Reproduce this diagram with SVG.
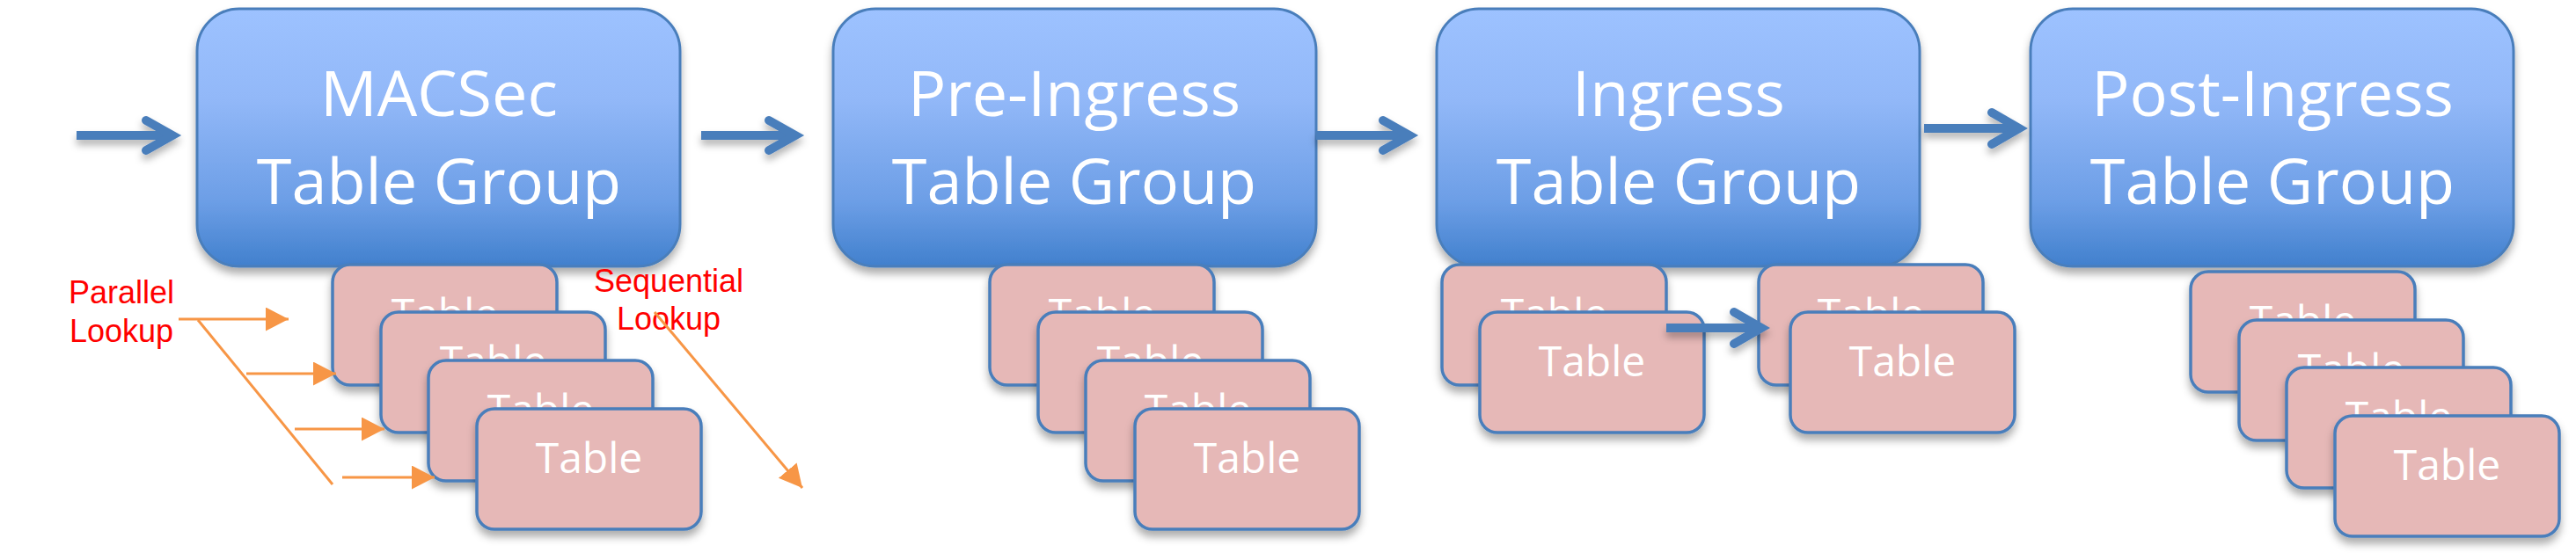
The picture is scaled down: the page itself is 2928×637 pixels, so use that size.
<svg xmlns="http://www.w3.org/2000/svg" width="2928" height="637" viewBox="0 0 2928 637">
<defs>
<linearGradient id="boxGrad" x1="0" y1="0" x2="0" y2="1">
<stop offset="0" stop-color="#9dc2ff"/>
<stop offset="0.35" stop-color="#92b8f8"/>
<stop offset="0.75" stop-color="#6c9ee6"/>
<stop offset="1" stop-color="#4180cd"/>
</linearGradient>
<filter id="shadow" x="-10%" y="-10%" width="120%" height="130%">
<feDropShadow dx="0" dy="7" stdDeviation="5" flood-color="#000" flood-opacity="0.32"/>
</filter>
<filter id="ashadow" x="-10%" y="-50%" width="120%" height="200%">
<feDropShadow dx="0" dy="6" stdDeviation="4" flood-color="#000" flood-opacity="0.3"/>
</filter>
<marker id="oarrow" markerUnits="userSpaceOnUse" markerWidth="28" markerHeight="28" refX="26" refY="13.5" orient="auto" viewBox="0 0 28 28">
<path d="M0,0 L26,13.5 L0,27 z" fill="#f79646"/>
</marker>
<style>
.box{fill:url(#boxGrad);stroke:#4a7ebb;stroke-width:3;filter:url(#shadow)}
.btxt{font-family:"Open Sans","Noto Sans",sans-serif;font-size:72px;fill:#fff;text-anchor:middle}
.tbl{fill:#e6b8b7;stroke:#4a7ebb;stroke-width:3.5;filter:url(#shadow)}
.ttxt{font-family:"Open Sans","Noto Sans",sans-serif;font-size:48px;fill:#fff;text-anchor:middle}
.shaft{fill:none;stroke:#4a7ebb;stroke-width:10;stroke-linecap:butt}
.chev{fill:none;stroke:#4a7ebb;stroke-width:10;stroke-linecap:round;stroke-linejoin:miter;stroke-miterlimit:6}
.orange{fill:none;stroke:#f79646;stroke-width:3}
.red{font-family:"Liberation Sans",Arial,sans-serif;font-size:36px;fill:#ff0000;text-anchor:middle}
</style>
</defs>
<rect width="2928" height="637" fill="#fff"/>

<g id="macsec">
<rect class="box" x="224" y="10" width="549" height="293" rx="48"/>
<text class="btxt" x="499" y="132">MACSec</text>
<text class="btxt" x="499" y="232">Table Group</text>
</g>
<g id="pre-ingress">
<rect class="box" x="947" y="10" width="549" height="293" rx="48"/>
<text class="btxt" x="1221" y="132">Pre-Ingress</text>
<text class="btxt" x="1221" y="232">Table Group</text>
</g>
<g id="ingress">
<rect class="box" x="1633" y="10" width="549" height="293" rx="48"/>
<text class="btxt" x="1908" y="132">Ingress</text>
<text class="btxt" x="1908" y="232">Table Group</text>
</g>
<g id="post-ingress">
<rect class="box" x="2308" y="10" width="549" height="293" rx="48"/>
<text class="btxt" x="2583" y="132">Post-Ingress</text>
<text class="btxt" x="2583" y="232">Table Group</text>
</g>

<g id="macsec-t1"><rect class="tbl" x="378" y="301" width="255" height="137" rx="20"/><text class="ttxt" x="505.5" y="374">Table</text></g>
<g id="macsec-t2"><rect class="tbl" x="433" y="355" width="255" height="137" rx="20"/><text class="ttxt" x="560.5" y="428">Table</text></g>
<g id="macsec-t3"><rect class="tbl" x="487" y="410" width="255" height="137" rx="20"/><text class="ttxt" x="614.5" y="483">Table</text></g>
<g id="macsec-t4"><rect class="tbl" x="542" y="465" width="255" height="137" rx="20"/><text class="ttxt" x="669.5" y="538">Table</text></g>

<g id="pre-t1"><rect class="tbl" x="1125" y="301" width="255" height="137" rx="20"/><text class="ttxt" x="1252.5" y="374">Table</text></g>
<g id="pre-t2"><rect class="tbl" x="1180" y="355" width="255" height="137" rx="20"/><text class="ttxt" x="1307.5" y="428">Table</text></g>
<g id="pre-t3"><rect class="tbl" x="1234" y="410" width="255" height="137" rx="20"/><text class="ttxt" x="1361.5" y="483">Table</text></g>
<g id="pre-t4"><rect class="tbl" x="1290" y="465" width="255" height="137" rx="20"/><text class="ttxt" x="1417.5" y="538">Table</text></g>

<g id="ing-t1"><rect class="tbl" x="1639" y="301" width="255" height="137" rx="20"/><text class="ttxt" x="1766.5" y="374">Table</text></g>
<g id="ing-t2"><rect class="tbl" x="1682" y="355" width="255" height="137" rx="20"/><text class="ttxt" x="1809.5" y="428">Table</text></g>
<g id="ing-t3"><rect class="tbl" x="1999" y="301" width="255" height="137" rx="20"/><text class="ttxt" x="2126.5" y="374">Table</text></g>
<g id="ing-t4"><rect class="tbl" x="2035" y="355" width="255" height="137" rx="20"/><text class="ttxt" x="2162.5" y="428">Table</text></g>

<g id="post-t1"><rect class="tbl" x="2490" y="309" width="255" height="137" rx="20"/><text class="ttxt" x="2617.5" y="382">Table</text></g>
<g id="post-t2"><rect class="tbl" x="2545" y="364" width="255" height="137" rx="20"/><text class="ttxt" x="2672.5" y="437">Table</text></g>
<g id="post-t3"><rect class="tbl" x="2599" y="418" width="255" height="137" rx="20"/><text class="ttxt" x="2726.5" y="491">Table</text></g>
<g id="post-t4"><rect class="tbl" x="2654" y="473" width="255" height="137" rx="20"/><text class="ttxt" x="2781.5" y="546">Table</text></g>

<g id="labels">
<text class="red" x="138" y="345">Parallel</text>
<text class="red" x="138" y="389">Lookup</text>
<text class="red" x="760" y="332">Sequential</text>
<text class="red" x="760" y="375">Lookup</text>
</g>

<g id="connectors">
<g filter="url(#ashadow)">
<path class="shaft" d="M87,154 H196"/>
<path class="chev" d="M166,137 L196,154 L166,171"/>
<path class="shaft" d="M797,154 H904"/>
<path class="chev" d="M874,137 L904,154 L874,171"/>
<path class="shaft" d="M1496,154 H1602"/>
<path class="chev" d="M1572,137 L1602,154 L1572,171"/>
<path class="shaft" d="M2187,146 H2295"/>
<path class="chev" d="M2264,128 L2295,146 L2264,164"/>
<path class="shaft" d="M1894,373 H2002"/>
<path class="chev" d="M1971,355 L2002,373 L1971,391"/>
</g>
<path class="orange" d="M203,363 H328" marker-end="url(#oarrow)"/>
<path class="orange" d="M225,364 L378,551"/>
<path class="orange" d="M280,425 H382" marker-end="url(#oarrow)"/>
<path class="orange" d="M335,488 H437" marker-end="url(#oarrow)"/>
<path class="orange" d="M389,543 H494" marker-end="url(#oarrow)"/>
<path class="orange" d="M744,355 L912,555" marker-end="url(#oarrow)"/>
</g>
</svg>
